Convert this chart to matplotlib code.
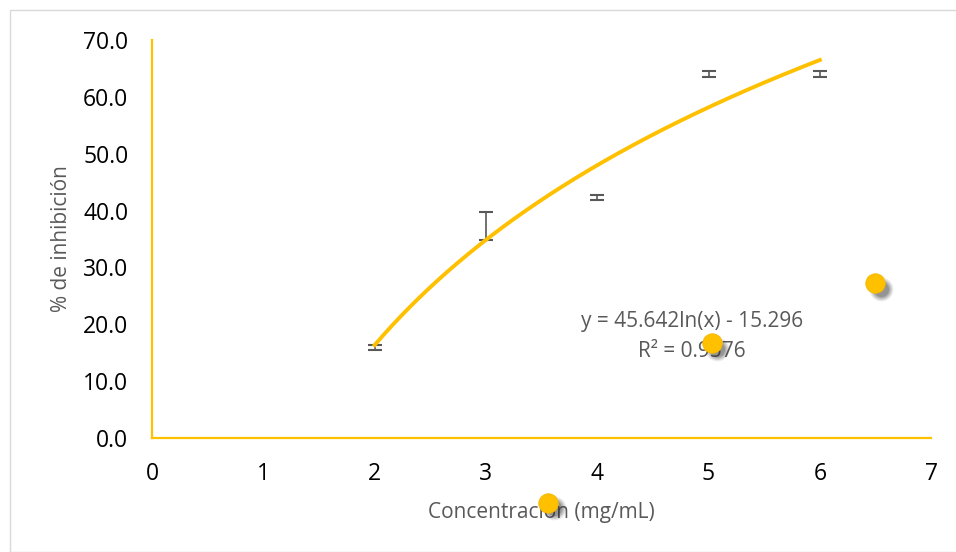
import numpy as np
import matplotlib.pyplot as plt
import matplotlib.transforms as mtransforms
from matplotlib.patches import Rectangle

# measured points with error bars
conc = [2, 3, 4, 5, 6]
inhib = [15.9, 37.3, 42.3, 64.0, 64.0]
inhib_err = [0.4, 2.5, 0.5, 0.5, 0.5]

# log trendline coefficients (from the chart label)
a_coef = 45.642
b_coef = -15.296
r2 = 0.9576

# stray markers drawn off the curve in the original
stray_x = [3.56, 5.03, 6.50]
stray_y = [-11.4, 16.7, 27.2]

gold = '#FFC000'
grey = '#595959'

plt.rcParams['font.family'] = ['Open Sans', 'DejaVu Sans']

fig = plt.figure(figsize=(9.56, 5.52), dpi=100)
fig.patches.append(Rectangle((10 / 956, 0), 1, 1 - 10 / 552, transform=fig.transFigure,
                             fill=False, edgecolor='#D9D9D9', linewidth=1))
ax = fig.add_axes([0.159, 0.2065, 0.815, 0.721])

ax.errorbar(conc, inhib, yerr=inhib_err, fmt='none', ecolor=grey, elinewidth=1.2,
            capsize=5, capthick=1.5, zorder=3)

xs = np.linspace(min(conc), max(conc), 200)
ax.plot(xs, a_coef * np.log(xs) + b_coef, color=gold, linewidth=2.8, zorder=4)

ax.text(4.85, 20.5, f'y = {a_coef}ln(x) - {abs(b_coef)}', ha='center', va='center',
        fontsize=15, color=grey)
ax.text(4.85, 15.3, f'R² = {r2}', ha='center', va='center', fontsize=15, color=grey)

# soft shadow under the stray markers
for i, alpha in enumerate([0.10, 0.14, 0.18, 0.22]):
    off = mtransforms.offset_copy(ax.transData, fig=fig, x=4, y=-4, units='points')
    ax.plot(stray_x, stray_y, 'o', markersize=17 - i * 2, color='#303030', alpha=alpha,
            markeredgewidth=0, transform=off, clip_on=False, zorder=5)
ax.plot(stray_x, stray_y, 'o', markersize=14, color=gold, markeredgecolor='#F5B800',
        markeredgewidth=0.6, clip_on=False, zorder=6)

ax.set_xlim(0, 7)
ax.set_ylim(0, 70)
ax.set_xticks(range(0, 8))
ax.set_yticks(np.arange(0, 71, 10))
ax.yaxis.set_major_formatter(plt.FuncFormatter(lambda v, p: f'{v:.1f}'))
ax.tick_params(length=0, labelsize=16.5, pad=17, colors='black')

for side in ['top', 'right']:
    ax.spines[side].set_visible(False)
for side in ['left', 'bottom']:
    ax.spines[side].set_color(gold)
    ax.spines[side].set_linewidth(1.6)

ax.set_xlabel('Concentración (mg/mL)', fontsize=15, color=grey, labelpad=12)
ax.set_ylabel('% de inhibición', fontsize=15, color=grey, labelpad=8)

fig.savefig('out.png', dpi=100)
